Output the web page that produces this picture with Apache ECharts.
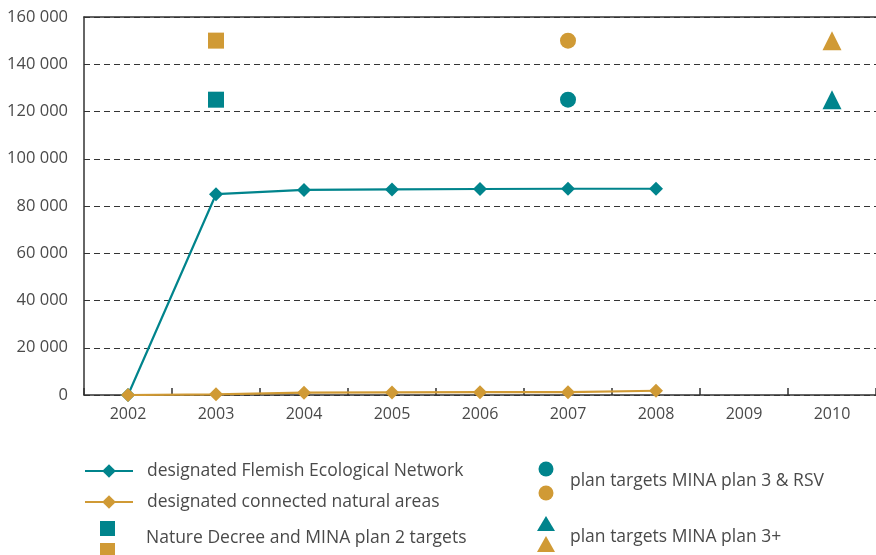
<!DOCTYPE html>
<html><head><meta charset="utf-8">
<script src="https://cdn.jsdelivr.net/npm/echarts@6/dist/echarts.min.js"></script>
<style>html,body{margin:0;padding:0;background:#fff}#c{width:876px;height:555px}</style>
</head><body><div id="c"></div>
<script>
var years = ['2002','2003','2004','2005','2006','2007','2008','2009','2010'];
var yTicks = [0, 20000, 40000, 60000, 80000, 100000, 120000, 140000, 160000];
var flemishNetwork = [0, 85000, 86800, 87000, 87200, 87300, 87300, null, null];
var connectedAreas = [0, 300, 1000, 1100, 1200, 1200, 1800, null, null];
var natureDecreeTargets = {teal: [['2003', 125000]], gold: [['2003', 150000]]};
var mina3Targets = {teal: [['2007', 125000]], gold: [['2007', 150000]]};
var mina3PlusTargets = {teal: [['2010', 125000]], gold: [['2010', 150000]]};
var names = ['designated Flemish Ecological Network','designated connected natural areas','Nature Decree and MINA plan 2 targets','plan targets MINA plan 3 & RSV','plan targets MINA plan 3+'];

var TEAL = '#00848C', GOLD = '#D09A35', TXT = '#4a4a4a';
var FONT = 'Open Sans';
var LFS = 17.5;
function fmt(v){ return String(v).replace(/\B(?=(\d{3})+(?!\d))/g, ' '); }

var chart = echarts.init(document.getElementById('c'), null, {renderer:'canvas'});
function scatter(name, data, symbol, color, size){
  return {name:name, type:'scatter', data:data, symbol:symbol, symbolSize:size, itemStyle:{color:color, opacity:1}, z:3};
}
var option = {
  animation:false,
  textStyle:{fontFamily:FONT},
  grid:{left:84, right:-3, top:17, bottom:160, containLabel:false},
  xAxis:[{
    type:'category', data:years, boundaryGap:true,
    axisLine:{lineStyle:{color:'#333', width:1.5}},
    axisTick:{show:true, inside:true, length:7, lineStyle:{color:'#333', width:1.5}},
    axisLabel:{color:TXT, fontSize:16, margin:11, fontFamily:FONT}
  },{
    type:'category', data:years, position:'top', boundaryGap:true,
    axisLine:{show:true, lineStyle:{color:'#333', width:1.5}},
    axisTick:{show:false}, axisLabel:{show:false}
  }],
  yAxis:{
    type:'value', min:yTicks[0], max:yTicks[yTicks.length-1], interval:20000,
    axisLine:{show:true, lineStyle:{color:'#333', width:1.5}},
    axisTick:{show:false},
    axisLabel:{color:TXT, fontSize:16.5, margin:16, fontFamily:FONT, formatter:function(v){return fmt(v);}},
    splitLine:{show:true, lineStyle:{color:'#333', type:[6,4], width:1}}
  },
  legend:{
    data:[names[0], names[1]], orient:'vertical', left:79, top:457, itemWidth:48, itemHeight:17, itemGap:13,
    textStyle:{color:TXT, fontSize:LFS, fontFamily:FONT, padding:[0,0,0,9]}
  },
  series:[
    {name:names[0], type:'line', data:flemishNetwork, symbol:'diamond', symbolSize:14, lineStyle:{color:TEAL, width:2.2}, itemStyle:{color:TEAL}, z:4},
    {name:names[1], type:'line', data:connectedAreas, symbol:'diamond', symbolSize:14, lineStyle:{color:GOLD, width:2.2}, itemStyle:{color:GOLD}, z:5},
    scatter(names[2], natureDecreeTargets.teal, 'rect', TEAL, 16),
    scatter(names[2], natureDecreeTargets.gold, 'rect', GOLD, 16),
    scatter(names[3], mina3Targets.teal, 'circle', TEAL, 16),
    scatter(names[3], mina3Targets.gold, 'circle', GOLD, 16),
    scatter(names[4], mina3PlusTargets.teal, 'triangle', TEAL, 19),
    scatter(names[4], mina3PlusTargets.gold, 'triangle', GOLD, 19)
  ],
  graphic:[
    {type:'rect', shape:{x:100, y:521, width:15, height:15}, style:{fill:TEAL}},
    {type:'rect', shape:{x:100, y:543, width:15, height:15}, style:{fill:GOLD}},
    {type:'text', left:146, top:529, style:{text:names[2], fill:TXT, font:LFS+'px "'+FONT+'"'}},
    {type:'circle', shape:{cx:546, cy:469, r:7.5}, style:{fill:TEAL}},
    {type:'circle', shape:{cx:546, cy:493, r:7.5}, style:{fill:GOLD}},
    {type:'text', left:570, top:472, style:{text:names[3], fill:TXT, font:LFS+'px "'+FONT+'"'}},
    {type:'polygon', shape:{points:[[546,516],[555,531],[537,531]]}, style:{fill:TEAL}},
    {type:'polygon', shape:{points:[[546,536],[555,552],[537,552]]}, style:{fill:GOLD}},
    {type:'text', left:570, top:528, style:{text:names[4], fill:TXT, font:LFS+'px "'+FONT+'"'}}
  ]
};
chart.setOption(option);
</script></body></html>
